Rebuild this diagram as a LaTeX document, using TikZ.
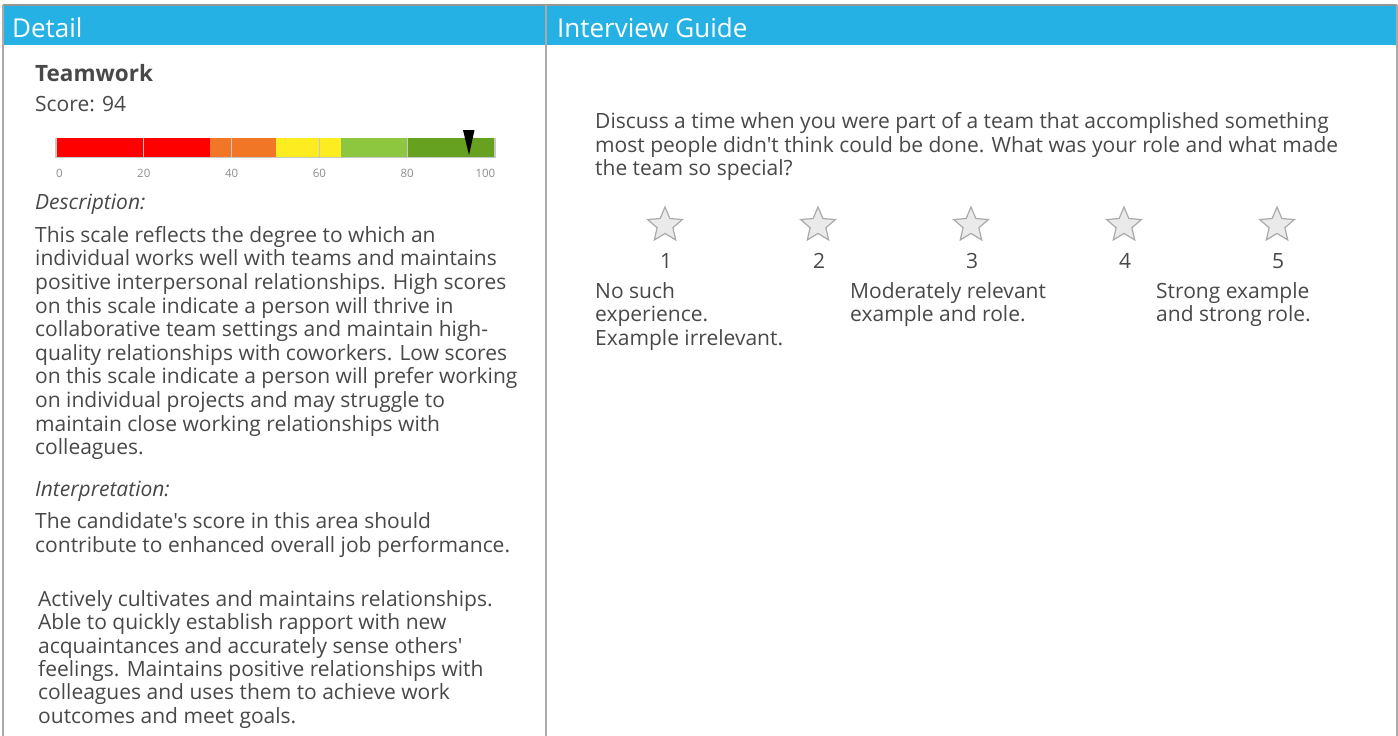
\documentclass[tikz,border=0pt]{standalone}
\usepackage{fontspec}
\setmainfont{Open Sans}[Ligatures=TeXOff]
\usetikzlibrary{shapes.geometric}
\definecolor{hdr}{RGB}{38,177,229}
\definecolor{txt}{RGB}{72,72,72}
\definecolor{frame}{RGB}{170,170,170}
\definecolor{frametop}{RGB}{150,150,150}
\definecolor{cRed}{RGB}{255,0,0}
\definecolor{cOrange}{RGB}{241,118,38}
\definecolor{cYellow}{RGB}{252,236,32}
\definecolor{cLGreen}{RGB}{141,198,63}
\definecolor{cDGreen}{RGB}{102,161,32}
\definecolor{tick}{RGB}{200,200,200}
\definecolor{ticklbl}{RGB}{140,140,140}
\definecolor{starfill}{RGB}{234,234,234}
\definecolor{starline}{RGB}{170,170,170}
\tikzset{
  body/.style={inner sep=0pt, anchor=base west, align=left, text=txt,
    font=\fontsize{21}{23.5}\selectfont},
  head/.style={inner sep=0pt, anchor=base west, text=white,
    font=\fontsize{26}{30}\selectfont},
  ticklabel/.style={inner sep=0pt, anchor=base, text=ticklbl,
    font=\fontsize{11.5}{13}\selectfont},
  starsty/.style={star, star points=5, star point ratio=2.2, minimum size=36.4pt,
    inner sep=0pt, draw=starline, fill=starfill, line width=1.2pt},
  numsty/.style={inner sep=0pt, anchor=base, text=txt,
    font=\fontsize{21}{23.5}\selectfont},
}
\begin{document}
\begin{tikzpicture}[x=1pt,y=-1pt]
\useasboundingbox (0,0) rectangle (1398,736);
% header band
\fill[hdr] (3,5) rectangle (1397,45);
\draw[frametop, line width=2pt] (3,5) -- (1397,5);
\draw[frame, line width=2pt] (3,5) -- (3,736);
\draw[frame, line width=2pt] (1397,5) -- (1397,736);
\draw[frame, line width=1.5pt] (546,5) -- (546,736);
\node[head] (hdetail) at (12,37.5) {Detail};
\node[head] (hguide) at (557,37.5) {Interview Guide};

% left panel
\node[body, font=\fontsize{22.5}{26}\selectfont\bfseries] (title) at (35,81.7) {Teamwork};
\node[body] (score) at (35,111.7) {Score: 94};

% score bar
\fill[cRed] (56,138) rectangle (209.7,157);
\fill[cOrange] (209.7,138) rectangle (275.5,157);
\fill[cYellow] (275.5,138) rectangle (341.4,157);
\fill[cLGreen] (341.4,138) rectangle (407.6,157);
\fill[cDGreen] (407.6,138) rectangle (495,157);
\foreach \v in {20,40,60,80} {
  \draw[tick, line width=1pt] ({56+4.39*\v},138) -- ({56+4.39*\v},157);
}
\draw[tick, line width=1.2pt] (56,138) -- (56,157.5) -- (495,157.5) -- (495,138);
\fill[black] (463,130) -- (474.5,130) -- (469,155) -- cycle;
\node[ticklabel, anchor=base west] (t0) at (56,177) {0};
\node[ticklabel] (t20) at (143.8,177) {20};
\node[ticklabel] (t40) at (231.6,177) {40};
\node[ticklabel] (t60) at (319.4,177) {60};
\node[ticklabel] (t80) at (407.2,177) {80};
\node[ticklabel, anchor=base east] (t100) at (495.5,177) {100};

\node[body, font=\fontsize{21}{23.5}\selectfont\itshape] (desclbl) at (35,209.5) {Description:};
% base anchor = last line baseline
\node[body, font=\fontsize{21}{23.6}\selectfont] (desc) at (35,454.7) {This scale reflects the degree to which an\\
individual works well with teams and maintains\\
positive interpersonal relationships. High scores\\
on this scale indicate a person will thrive in\\
collaborative team settings and maintain high-\\
quality relationships with coworkers. Low scores\\
on this scale indicate a person will prefer working\\
on individual projects and may struggle to\\
maintain close working relationships with\\
colleagues.};
\node[body, font=\fontsize{21}{23.5}\selectfont\itshape] (interplbl) at (35,496) {Interpretation:};
\node[body] (interp) at (35,552.3) {The candidate's score in this area should\\
contribute to enhanced overall job performance.};
\node[body, font=\fontsize{21}{23.3}\selectfont] (behav) at (38,723) {Actively cultivates and maintains relationships.\\
Able to quickly establish rapport with new\\
acquaintances and accurately sense others'\\
feelings. Maintains positive relationships with\\
colleagues and uses them to achieve work\\
outcomes and meet goals.};

% right panel
\node[body] (question) at (595,175.5) {Discuss a time when you were part of a team that accomplished something\\
most people didn't think could be done. What was your role and what made\\
the team so special?};
\foreach \i in {1,...,5} {
  \node[starsty] (star\i) at ({665+153*(\i-1)},225.2) {};
  \node[numsty] (num\i) at ({666+153*(\i-1)},268.3) {\i};
}
\node[body] (lbl1) at (595,345.3) {No such\\experience.\\Example irrelevant.};
\node[body] (lbl3) at (850,321.8) {Moderately relevant\\example and role.};
\node[body] (lbl5) at (1156,321.8) {Strong example\\and strong role.};
\end{tikzpicture}
\end{document}
